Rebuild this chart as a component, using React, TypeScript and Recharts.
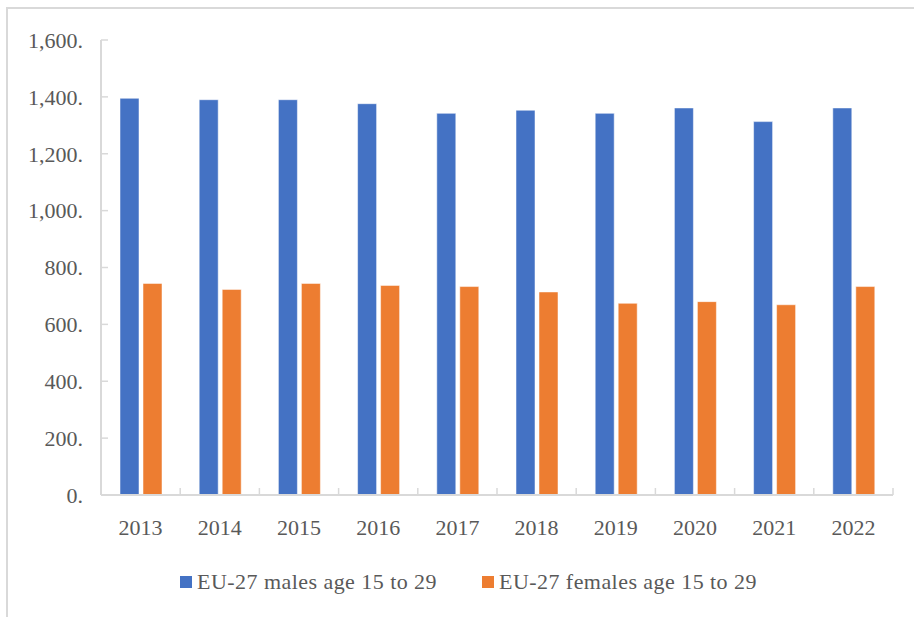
import { BarChart, Bar, XAxis, YAxis, Legend } from "recharts";

const years = ["2013", "2014", "2015", "2016", "2017", "2018", "2019", "2020", "2021", "2022"];
const males = [1395, 1390, 1390, 1376, 1342, 1353, 1342, 1361, 1313, 1361];
const females = [744, 723, 744, 737, 733, 714, 674, 680, 669, 733];
const yTicks = [0, 200, 400, 600, 800, 1000, 1200, 1400, 1600];

const MALES_LABEL = "EU-27 males age 15 to 29";
const FEMALES_LABEL = "EU-27 females age 15 to 29";
const legendOrder = [MALES_LABEL, FEMALES_LABEL];

const data = years.map((year, i) => ({
  year,
  males: males[i],
  females: females[i],
}));

const FONT = '"Liberation Serif", "Times New Roman", serif';
const TEXT = "#595959";
const AXIS = "#d9d9d9";

// category labels + tick marks on the category boundaries (Excel style)
function YearTick(props: any) {
  const { x, y, payload, index, visibleTicksCount } = props;
  const half = payload.offset ?? 39.6;
  const last = index === visibleTicksCount - 1;
  return (
    <g>
      <line x1={x - half} x2={x - half} y1={y} y2={y - 7} stroke={AXIS} strokeWidth={1.5} />
      {last && <line x1={x + half} x2={x + half} y1={y} y2={y - 7} stroke={AXIS} strokeWidth={1.5} />}
      <text x={x} y={y + 32} textAnchor="middle" dominantBaseline="central" fill={TEXT} fontSize={22} fontFamily={FONT}>
        {payload.value}
      </text>
    </g>
  );
}

function LegendBox({ payload }: any) {
  const items = [...(payload || [])].sort(
    (a: any, b: any) => legendOrder.indexOf(a.value) - legendOrder.indexOf(b.value)
  );
  return (
    <div style={{ display: "flex", justifyContent: "center", gap: 45, paddingLeft: 44, height: 30, alignItems: "center" }}>
      {items.map((item: any) => (
        <div key={item.value} style={{ display: "flex", alignItems: "center", gap: 5 }}>
          <span style={{ width: 12, height: 12, background: item.color, display: "inline-block" }} />
          <span style={{ fontFamily: FONT, fontSize: 22, color: TEXT, lineHeight: "30px", letterSpacing: 0.45 }}>
            {item.value}
          </span>
        </div>
      ))}
    </div>
  );
}

export default function App() {
  return (
    <div style={{ position: "absolute", top: 0, left: 0, width: 914, height: 617, background: "#fff", overflow: "hidden" }}>
      <div
        style={{
          position: "absolute",
          left: 6,
          top: 7,
          width: 930,
          height: 640,
          borderTop: `2px solid ${AXIS}`,
          borderLeft: `2px solid ${AXIS}`,
        }}
      />
      <div style={{ position: "absolute", top: 0, left: 0 }}>
        <BarChart
          width={914}
          height={617}
          data={data}
          margin={{ top: 40, right: 21, left: 0, bottom: 20 }}
          barCategoryGap={19}
          barGap={4}
        >
          <XAxis
            dataKey="year"
            height={72}
            tickSize={0}
            tickMargin={0}
            tickLine={false}
            axisLine={{ stroke: AXIS, strokeWidth: 2 }}
            tick={<YearTick />}
            interval={0}
          />
          <YAxis
            width={101}
            domain={[0, 1600]}
            ticks={yTicks}
            interval={0}
            tickSize={-7}
            tickMargin={25}
            axisLine={{ stroke: AXIS, strokeWidth: 2 }}
            tickLine={{ stroke: AXIS, strokeWidth: 1.5 }}
            tick={{ fill: TEXT, fontSize: 22, fontFamily: FONT }}
            tickFormatter={(v: number) => `${v.toLocaleString("en-US")}.`}
          />
          <Legend verticalAlign="bottom" height={30} content={<LegendBox />} />
          <Bar
            dataKey="males"
            name={MALES_LABEL}
            fill="#4472c4"
            stroke="#ffffff"
            strokeOpacity={0.5}
            strokeWidth={1}
            isAnimationActive={false}
          />
          <Bar
            dataKey="females"
            name={FEMALES_LABEL}
            fill="#ed7d31"
            stroke="#ffffff"
            strokeOpacity={0.5}
            strokeWidth={1}
            isAnimationActive={false}
          />
        </BarChart>
      </div>
    </div>
  );
}
